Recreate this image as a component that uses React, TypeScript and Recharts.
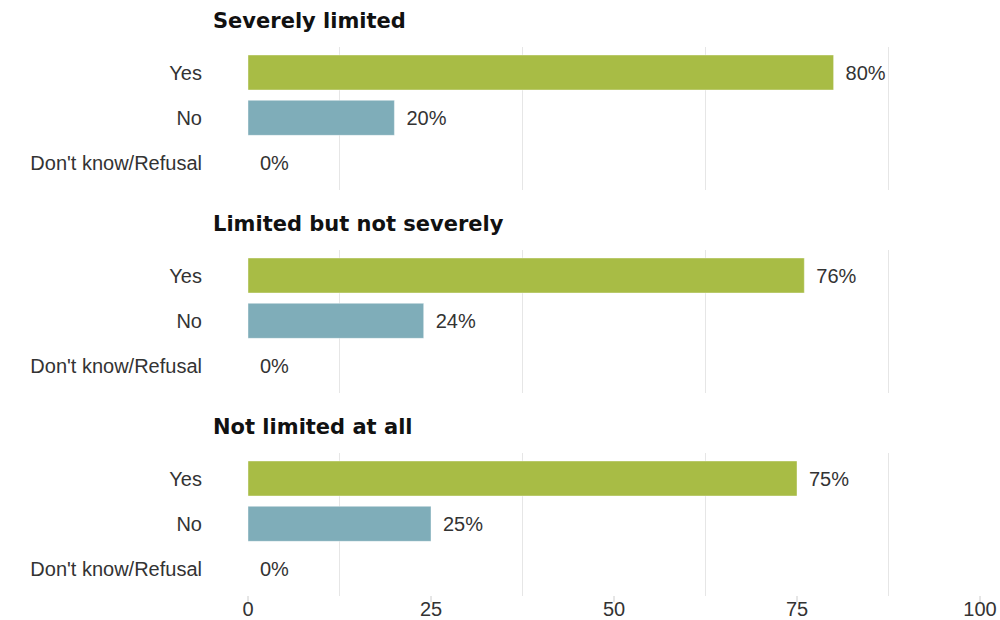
import React from "react";
import { BarChart, Bar, XAxis, YAxis, ReferenceLine, Cell, LabelList } from "recharts";

const categories = ["Yes", "No", "Don't know/Refusal"];
const panelTitles = ["Severely limited", "Limited but not severely", "Not limited at all"];
const severelyLimited = [80, 20, 0];
const limitedNotSeverely = [76, 24, 0];
const notLimitedAtAll = [75, 25, 0];
const xTicks = [0, 25, 50, 75, 100];
const gridValues = [12.5, 37.5, 62.5, 87.5];

const GREEN = "#A8BC45";
const BLUE = "#7FADB9";
const barColors = [GREEN, BLUE, BLUE];
const FONT = '"Liberation Sans", Arial, sans-serif';

type PanelProps = { title: string; values: number[]; top: number; height: number; showAxis: boolean };

function Panel({ title, values, top, height, showAxis }: PanelProps) {
  const data = categories.map((c, i) => ({ category: c, value: values[i] }));
  return (
    <div style={{ position: "absolute", top, left: 0, width: 1000, height }}>
      <BarChart
        width={1000}
        height={height}
        data={data}
        layout="vertical"
        margin={{ top: 47, right: 20, left: 0, bottom: showAxis ? 0 : 13 }}
      >
        <XAxis
          type="number"
          domain={[0, 100]}
          ticks={xTicks}
          interval={0}
          hide={!showAxis}
          height={24}
          axisLine={false}
          tickMargin={0}
          tickLine={{ stroke: "#cccccc" }}
          tick={{ fill: "#333", fontSize: 20, fontFamily: FONT }}
        />
        <YAxis
          type="category"
          dataKey="category"
          width={248}
          tickLine={false}
          axisLine={false}
          tickSize={0}
          tickMargin={46}
          padding={{ top: 3, bottom: 4 }}
          tick={{ fill: "#333", fontSize: 20, fontFamily: FONT }}
        />
        {gridValues.map((v) => (
          <ReferenceLine key={v} x={v} stroke="#e6e6e6" strokeWidth={1} {...({ zIndex: -50 } as any)} />
        ))}
        <Bar dataKey="value" barSize={35} minPointSize={0.001} isAnimationActive={false} stroke="#ffffff" strokeOpacity={0.4}>
          {data.map((_, i) => (
            <Cell key={i} fill={barColors[i]} />
          ))}
          <LabelList
            dataKey="value"
            position="right"
            offset={12}
            formatter={(v: any) => `${v}%`}
            style={{ fill: "#333", fontSize: 20, fontFamily: FONT }}
          />
        </Bar>
      </BarChart>
      <div
        style={{
          position: "absolute",
          left: 213,
          top: 11,
          font: 'bold 21px "DejaVu Sans", sans-serif',
          lineHeight: "21px",
          color: "#111",
          whiteSpace: "nowrap",
        }}
      >
        {title}
      </div>
    </div>
  );
}

export default function App() {
  return (
    <div style={{ position: "absolute", top: 0, left: 0, width: 1000, height: 620, background: "#fff", overflow: "hidden" }}>
      <Panel title={panelTitles[0]} values={severelyLimited} top={0} height={203} showAxis={false} />
      <Panel title={panelTitles[1]} values={limitedNotSeverely} top={203} height={203} showAxis={false} />
      <Panel title={panelTitles[2]} values={notLimitedAtAll} top={406} height={214} showAxis={true} />
    </div>
  );
}
